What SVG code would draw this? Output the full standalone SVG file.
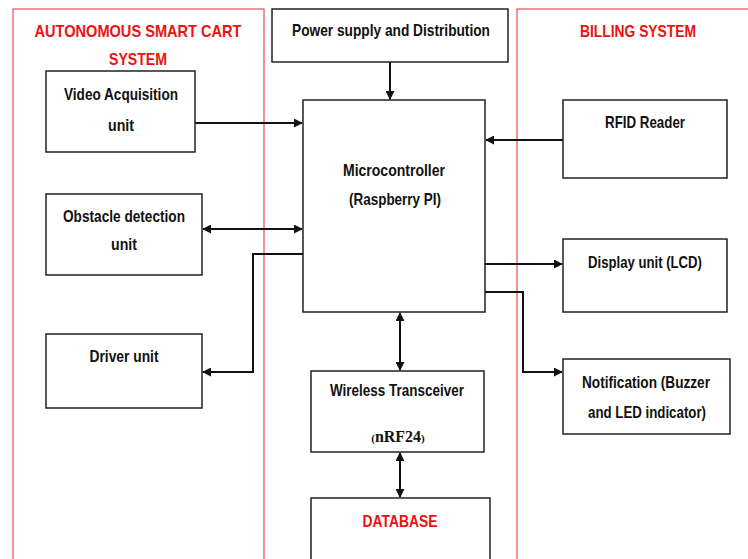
<svg xmlns="http://www.w3.org/2000/svg" width="748" height="559" viewBox="0 0 748 559">
<defs>
<style>
.box{fill:#fff;stroke:#222;stroke-width:1.5}
.zone{fill:none;stroke:#e05050;stroke-width:1.2}
.t{font-family:"Liberation Sans",Arial,sans-serif;font-weight:bold;font-size:16.5px;fill:#111;text-anchor:middle}
.r{fill:#ee1111;font-size:17px}
.c{fill:none;stroke:#111;stroke-width:2}
</style>
<marker id="ah" viewBox="0 0 10 10" refX="9" refY="5" markerWidth="9" markerHeight="9" orient="auto-start-reverse" markerUnits="userSpaceOnUse">
<path d="M0,0 L10,5 L0,10 z" fill="#111"/>
</marker>
</defs>
<rect width="748" height="559" fill="#fff"/>
<g id="zones">
<rect class="zone" x="13" y="9" width="251" height="560"/>
<rect class="zone" x="517" y="9" width="240" height="560"/>
<text class="t r" x="138" y="37" textLength="207" lengthAdjust="spacingAndGlyphs">AUTONOMOUS SMART CART</text>
<text class="t r" x="138" y="65" textLength="58" lengthAdjust="spacingAndGlyphs">SYSTEM</text>
<text class="t r" x="638" y="37" textLength="116" lengthAdjust="spacingAndGlyphs">BILLING SYSTEM</text>
</g>
<g id="connectors">
<line class="c" x1="390" y1="62" x2="390" y2="99" marker-end="url(#ah)"/>
<line class="c" x1="195" y1="123" x2="302" y2="123" marker-end="url(#ah)"/>
<line class="c" x1="563" y1="140" x2="486" y2="140" marker-end="url(#ah)"/>
<line class="c" x1="203" y1="229" x2="302" y2="229" marker-start="url(#ah)" marker-end="url(#ah)"/>
<polyline class="c" points="303,254 253,254 253,372 203,372" marker-end="url(#ah)"/>
<line class="c" x1="485" y1="264" x2="562" y2="264" marker-end="url(#ah)"/>
<polyline class="c" points="485,292 523,292 523,372 562,372" marker-end="url(#ah)"/>
<line class="c" x1="400" y1="313" x2="400" y2="370" marker-start="url(#ah)" marker-end="url(#ah)"/>
<line class="c" x1="400" y1="453" x2="400" y2="497" marker-start="url(#ah)" marker-end="url(#ah)"/>
</g>
<g id="power">
<rect class="box" x="272" y="9" width="236" height="53"/>
<text class="t" x="391" y="36" textLength="198" lengthAdjust="spacingAndGlyphs">Power supply and Distribution</text>
</g>
<g id="micro">
<rect class="box" x="303" y="100" width="182" height="212"/>
<text class="t" x="394" y="176" textLength="102" lengthAdjust="spacingAndGlyphs">Microcontroller</text>
<text class="t" x="395" y="205" textLength="92" lengthAdjust="spacingAndGlyphs">(Raspberry PI)</text>
</g>
<g id="video">
<rect class="box" x="46" y="71" width="149" height="81"/>
<text class="t" x="121" y="100" textLength="114" lengthAdjust="spacingAndGlyphs">Video Acquisition</text>
<text class="t" x="121" y="131" textLength="26" lengthAdjust="spacingAndGlyphs">unit</text>
</g>
<g id="obstacle">
<rect class="box" x="46" y="194" width="156" height="81"/>
<text class="t" x="124" y="222" textLength="122" lengthAdjust="spacingAndGlyphs">Obstacle detection</text>
<text class="t" x="124" y="250" textLength="26" lengthAdjust="spacingAndGlyphs">unit</text>
</g>
<g id="driver">
<rect class="box" x="46" y="334" width="156" height="74"/>
<text class="t" x="124" y="362" textLength="69" lengthAdjust="spacingAndGlyphs">Driver unit</text>
</g>
<g id="rfid">
<rect class="box" x="563" y="100" width="164" height="78"/>
<text class="t" x="645" y="128" textLength="80" lengthAdjust="spacingAndGlyphs">RFID Reader</text>
</g>
<g id="display">
<rect class="box" x="563" y="239" width="164" height="73"/>
<text class="t" x="645" y="268" textLength="114" lengthAdjust="spacingAndGlyphs">Display unit (LCD)</text>
</g>
<g id="notification">
<rect class="box" x="563" y="359" width="167" height="75"/>
<text class="t" x="646" y="388" textLength="128" lengthAdjust="spacingAndGlyphs">Notification (Buzzer</text>
<text class="t" x="647" y="418" textLength="118" lengthAdjust="spacingAndGlyphs">and LED indicator)</text>
</g>
<g id="wireless">
<rect class="box" x="311" y="371" width="173" height="81"/>
<text class="t" x="397" y="396" textLength="134" lengthAdjust="spacingAndGlyphs">Wireless Transceiver</text>
<text x="398" y="442" style="font-family:'Liberation Serif','Times New Roman',serif;font-weight:bold;font-size:16px;fill:#111;text-anchor:middle"><tspan font-size="11">(</tspan>nRF24<tspan font-size="11">)</tspan></text>
</g>
<g id="database">
<rect class="box" x="311" y="498" width="179" height="70"/>
<text class="t r" x="400" y="527" textLength="75" lengthAdjust="spacingAndGlyphs">DATABASE</text>
</g>
</svg>
